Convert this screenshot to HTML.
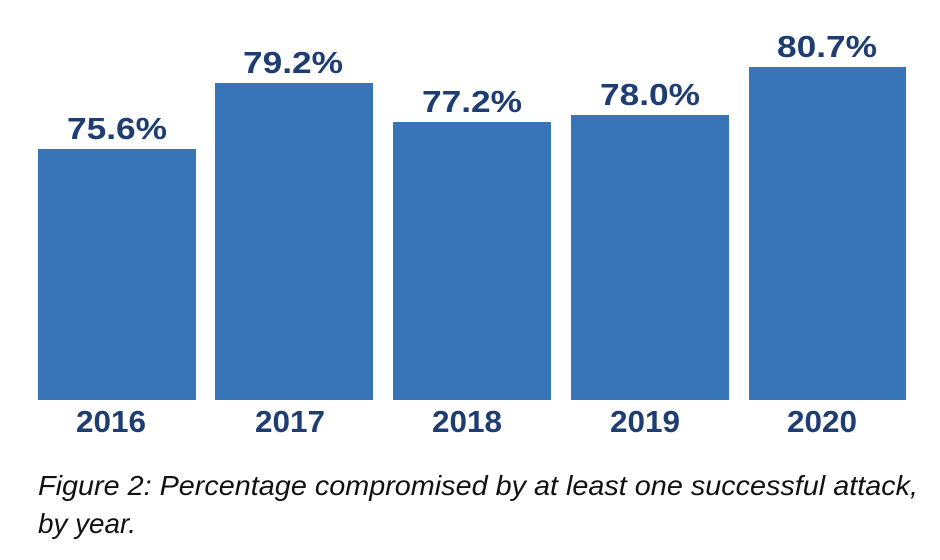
<!DOCTYPE html>
<html><head><meta charset="utf-8"><style>html,body{margin:0;padding:0;background:#fff}svg{display:block}</style></head>
<body>
<svg width="940" height="560" viewBox="0 0 940 560" xmlns="http://www.w3.org/2000/svg">
<g fill="#3874b8">
<rect x="38" y="149" width="158" height="251"/>
<rect x="215" y="83" width="158" height="317"/>
<rect x="393" y="122" width="158" height="278"/>
<rect x="571" y="115" width="158" height="285"/>
<rect x="749" y="67" width="157" height="333"/>
</g>
<g fill="#1e3d73" font-family="Liberation Sans, sans-serif" font-weight="bold" font-size="31" text-anchor="middle">
<text x="117" y="139" textLength="100" lengthAdjust="spacingAndGlyphs">75.6%</text>
<text x="293" y="73" textLength="100" lengthAdjust="spacingAndGlyphs">79.2%</text>
<text x="472" y="112" textLength="100" lengthAdjust="spacingAndGlyphs">77.2%</text>
<text x="650" y="105" textLength="100" lengthAdjust="spacingAndGlyphs">78.0%</text>
<text x="827" y="57" textLength="100" lengthAdjust="spacingAndGlyphs">80.7%</text>
<text x="111" y="432" textLength="70" lengthAdjust="spacingAndGlyphs">2016</text>
<text x="290" y="432" textLength="70" lengthAdjust="spacingAndGlyphs">2017</text>
<text x="467" y="432" textLength="70" lengthAdjust="spacingAndGlyphs">2018</text>
<text x="645" y="432" textLength="70" lengthAdjust="spacingAndGlyphs">2019</text>
<text x="822" y="432" textLength="70" lengthAdjust="spacingAndGlyphs">2020</text>
</g>
<g fill="#111" font-family="Liberation Sans, sans-serif" font-style="italic" font-size="28">
<text x="38" y="495" textLength="880" lengthAdjust="spacingAndGlyphs">Figure 2: Percentage compromised by at least one successful attack,</text>
<text x="38" y="533" textLength="98" lengthAdjust="spacingAndGlyphs">by year.</text>
</g>
</svg>
</body></html>
